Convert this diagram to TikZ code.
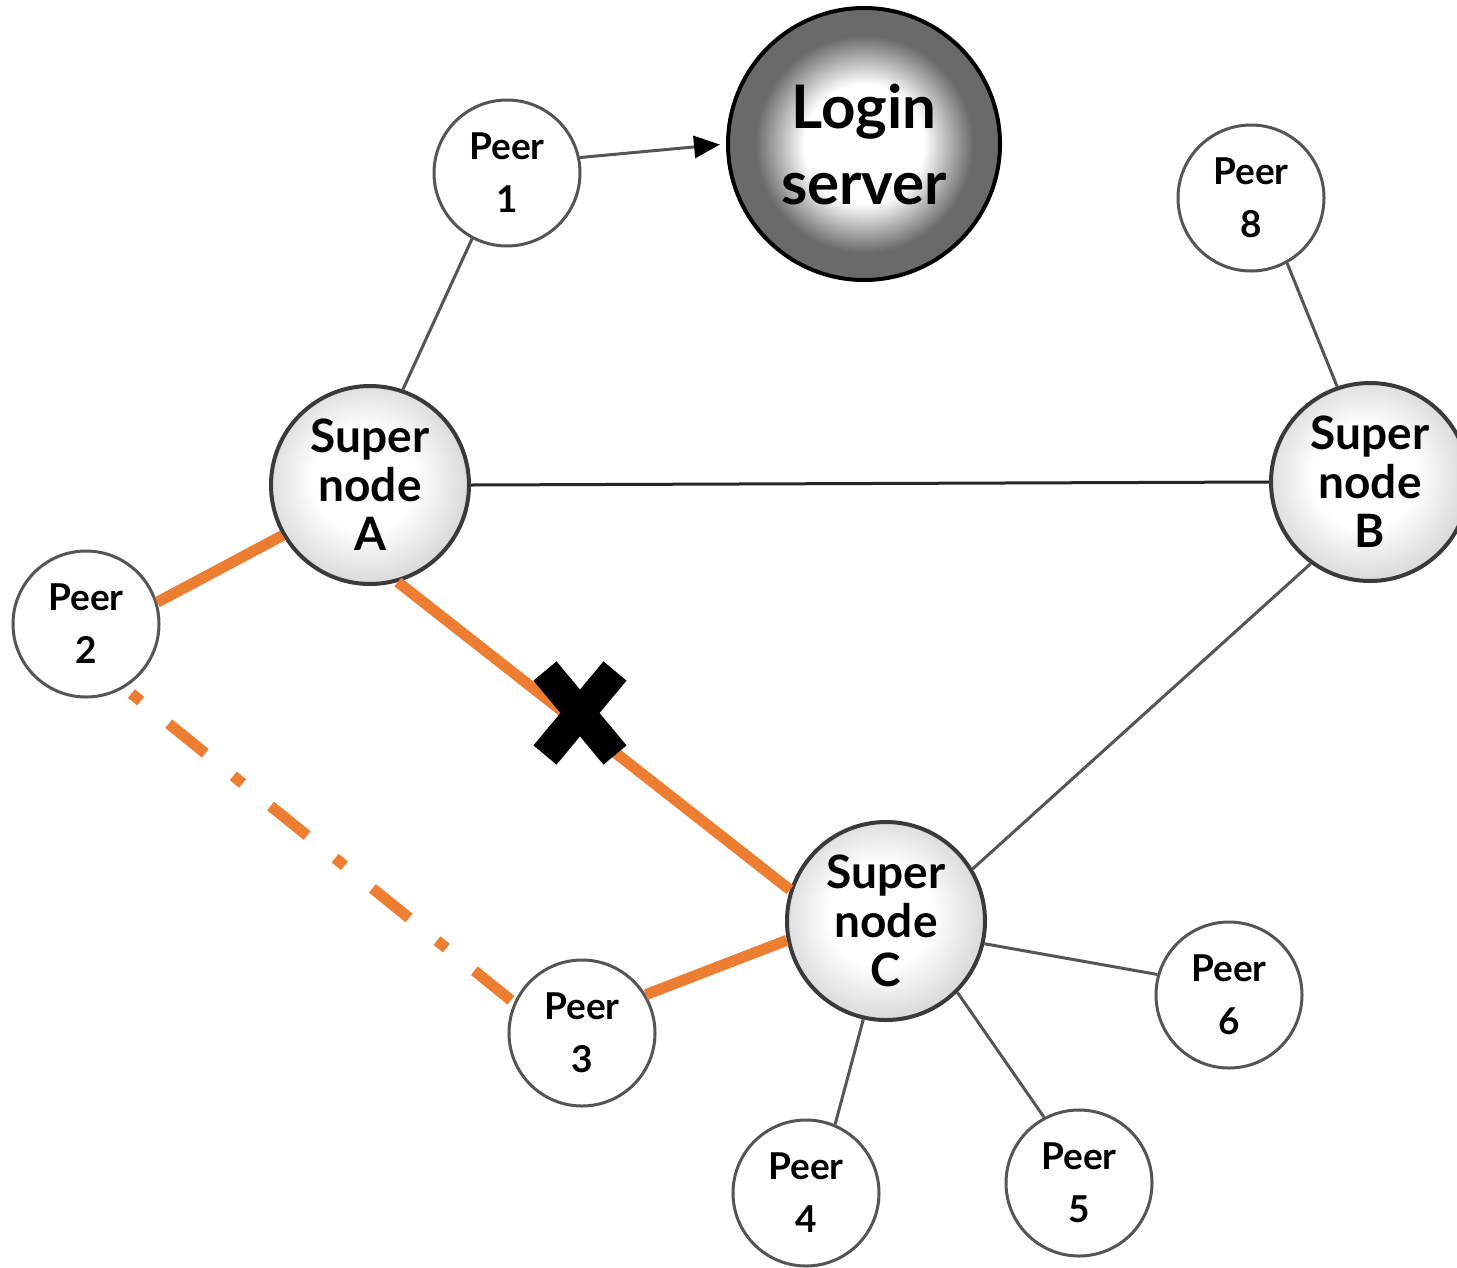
\documentclass[tikz,border=0pt]{standalone}
\usepackage{fontspec}
\setmainfont{Lato}
\usetikzlibrary{arrows.meta,calc}

\definecolor{edgegray}{HTML}{555555}
\definecolor{rimgray}{HTML}{3A3A3A}
\definecolor{srvgray}{HTML}{6A6A6A}
\definecolor{supgray}{HTML}{DCDCDC}
\definecolor{linkorange}{HTML}{ED7D31}

% white glow in the middle of the dark server disc
\pgfdeclareradialshading{serverglow}{\pgfpoint{0bp}{0bp}}{%
  color(0bp)=(white); color(11bp)=(white); color(20bp)=(srvgray); color(50bp)=(srvgray)}
% soft grey rim of the super nodes
\pgfdeclareradialshading{superglow}{\pgfpoint{-2bp}{2bp}}{%
  color(0bp)=(white); color(13bp)=(white); color(25bp)=(supgray); color(50bp)=(supgray)}

\begin{document}
\begin{tikzpicture}[x=1pt, y=-1pt,
  peer/.style={circle, draw=edgegray, line width=3pt, fill=white,
    minimum size=146pt, inner sep=0pt, align=center,
    font=\fontsize{37}{53}\selectfont\bfseries},
  supernode/.style={circle, draw=rimgray, line width=4pt, shading=superglow,
    minimum size=198pt, inner sep=0pt, align=center,
    font=\fontsize{46}{49}\selectfont\bfseries},
  server/.style={circle, draw=black, line width=4pt, shading=serverglow,
    minimum size=272pt, inner sep=0pt, align=center,
    font=\fontsize{60}{76}\selectfont\bfseries},
  link/.style={draw=edgegray, line width=3pt},
  mainlink/.style={draw=black!85, line width=3pt},
  hot/.style={draw=linkorange, line width=11pt},
  backup/.style={hot, dash pattern=on 12pt off 36pt on 47pt off 36pt, dash phase=122pt},
  cross/.style={draw=black, line width=30pt}
]
\useasboundingbox (0,0) rectangle (1457,1267);

% nodes
\node[server] (srv) at (864,144) {Login\\server};
\node[peer] (p1) at (507,173) {Peer\\1};
\node[peer] (p8) at (1251,198) {Peer\\8};
\node[supernode] (A) at (370,485) {Super\\node\\A};
\node[supernode] (B) at (1370,482) {Super\\node\\B};
\node[peer] (p2) at (86,624) {Peer\\2};
\node[supernode] (C) at (886,921) {Super\\node\\C};
\node[peer] (p3) at (582,1033) {Peer\\3};
\node[peer] (p6) at (1229,995) {Peer\\6};
\node[peer] (p4) at (806,1193) {Peer\\4};
\node[peer] (p5) at (1079,1183) {Peer\\5};

% plain links
\draw[link, -{Triangle[length=26pt,width=22pt,color=black]}, shorten >=6pt] (p1.12) -- (srv.180);
\draw[link] (p1.-118) -- (A.71);
\draw[mainlink] (A.0) -- (B.180);
\draw[link] (p8.-61) -- (B.109);
\draw[link] (B.234) -- (C.31);
\draw[link] (C.-13) -- (p6.164);
\draw[link] (C.-103) -- (p4.67);
\draw[link] (C.-45) -- (p5.118);

% highlighted links
\draw[hot] (A.210) -- (p2.17);
\draw[hot] (A.-74) -- (C.162);
\draw[hot] (C.191) -- (p3.31);
\draw[backup] (p2.-59) -- (p3.156);

% broken link marker
\coordinate (cut) at (580,713);
\draw[cross] ($(cut)+(-35,-42)$) -- ($(cut)+(35,42)$);
\draw[cross] ($(cut)+(35,-42)$) -- ($(cut)+(-35,42)$);
\end{tikzpicture}
\end{document}
